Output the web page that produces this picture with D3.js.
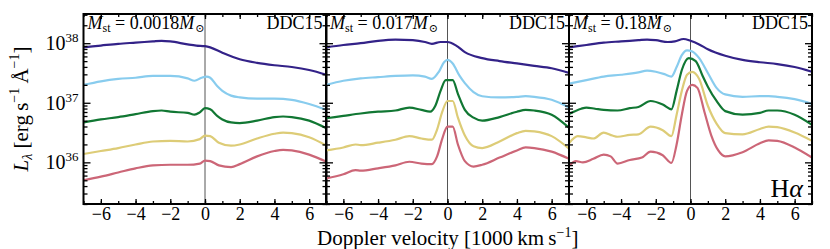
<!DOCTYPE html>
<html>
<head>
<meta charset="utf-8">
<script src="https://cdn.jsdelivr.net/npm/d3@7"></script>
<style>
  body { margin: 0; background: white; }
  text { font-family: "Liberation Serif", "DejaVu Serif", serif; }
</style>
</head>
<body>
<div id="container"></div>
<script>
let w = 830;
let h = 249;
let top_ = 14;
let bottom = 204;
let panelLeft = [83.5, 326, 569];
let panelW = 243;

let indigo = "#332288";
let cyan = "#88CCEE";
let green = "#117733";
let sand = "#DDCC77";
let rose = "#CC6677";
let colors = [indigo, cyan, green, sand, rose];

// panel labels
let massLabels = ["0.0018", "0.017", "0.18"];
let modelLabel = "DDC15";
let xTicks = [-6, -4, -2, 0, 2, 4, 6];

// log10 L_lambda vs velocity (1000 km/s)
let p1Indigo = [[-7,37.93],[-6,37.96],[-5,37.99],[-4,38.01],[-3,38.03],[-2.5,38.04],[-2,38.03],[-1,37.98],[-0.5,37.96],[0,37.95],[0.3,37.93],[1,37.84],[2,37.73],[3,37.67],[4,37.63],[5,37.60],[6,37.55],[7,37.47]];
let p1Cyan = [[-7,37.30],[-6,37.36],[-5,37.40],[-4,37.42],[-3,37.45],[-2,37.45],[-1,37.41],[-0.6,37.37],[-0.2,37.42],[0.1,37.44],[0.3,37.42],[0.7,37.28],[1,37.20],[1.5,37.12],[2,37.09],[3,37.07],[4,37.07],[5,37.05],[6,36.98],[7,36.88]];
let p1Green = [[-7,36.67],[-6,36.72],[-5,36.76],[-4,36.81],[-3,36.86],[-2.5,36.87],[-2,36.85],[-1,36.83],[-0.6,36.80],[-0.3,36.84],[0,36.91],[0.3,36.89],[0.7,36.78],[1,36.72],[1.5,36.67],[2,36.66],[3,36.70],[4,36.76],[4.5,36.77],[5,36.76],[6,36.70],[7,36.57]];
let p1Sand = [[-7,36.14],[-6,36.19],[-5,36.24],[-4,36.30],[-3,36.35],[-2,36.36],[-1,36.35],[-0.3,36.39],[0,36.45],[0.3,36.44],[0.8,36.33],[1.5,36.28],[2,36.30],[3,36.40],[4,36.48],[4.5,36.50],[5,36.49],[6,36.42],[7,36.28]];
let p1Rose = [[-7,35.70],[-6,35.76],[-5,35.83],[-4,35.90],[-3,35.95],[-2,35.96],[-1,35.96],[-0.3,35.98],[0,36.03],[0.3,36.02],[0.8,35.95],[1.5,35.92],[2,35.97],[3,36.10],[4,36.19],[4.5,36.21],[5,36.20],[6,36.13],[7,36.01]];

let p2Indigo = [[-7,37.93],[-6,37.97],[-5,38.00],[-4,38.04],[-3,38.06],[-2,38.05],[-1.3,38.02],[-0.9,37.99],[-0.4,38.02],[0,38.02],[0.5,37.96],[1,37.85],[2,37.75],[3,37.70],[4,37.66],[5,37.62],[6,37.58],[7,37.50]];
let p2Cyan = [[-7,37.30],[-6,37.37],[-5,37.41],[-4,37.43],[-3,37.45],[-2,37.46],[-1.3,37.44],[-0.9,37.40],[-0.5,37.52],[-0.2,37.68],[0,37.72],[0.3,37.66],[0.7,37.45],[1,37.33],[1.5,37.18],[2,37.11],[3,37.09],[4,37.10],[4.5,37.11],[5,37.10],[6,37.05],[7,36.92]];
let p2Green = [[-7,36.74],[-6,36.78],[-5,36.82],[-4,36.85],[-3,36.87],[-2.2,36.92],[-1.5,36.88],[-1,36.85],[-0.7,36.95],[-0.4,37.20],[-0.1,37.38],[0.3,37.38],[0.6,37.15],[1,36.88],[1.5,36.75],[2,36.70],[3,36.76],[4,36.85],[4.5,36.88],[5,36.87],[6,36.80],[7,36.58]];
let p2Sand = [[-7,36.20],[-6,36.25],[-5.3,36.30],[-5,36.29],[-4,36.33],[-3,36.38],[-2.2,36.44],[-1.5,36.40],[-0.9,36.38],[-0.6,36.55],[-0.3,36.85],[0,37.03],[0.3,37.03],[0.6,36.75],[1,36.45],[1.5,36.27],[2,36.24],[3,36.35],[4,36.49],[4.5,36.53],[5,36.52],[6,36.44],[7,36.23]];
let p2Rose = [[-7,35.73],[-6,35.80],[-5.3,35.87],[-5,35.86],[-4,35.90],[-3,35.95],[-2.2,36.01],[-1.5,35.98],[-0.9,35.97],[-0.6,36.10],[-0.3,36.40],[0,36.60],[0.3,36.60],[0.6,36.30],[1,36.02],[1.5,35.93],[2,35.96],[3,36.08],[4,36.20],[4.5,36.25],[5,36.24],[6,36.18],[7,36.06]];

let p3Indigo = [[-7,37.93],[-6,37.97],[-5,38.01],[-4,38.03],[-3,38.05],[-2.5,38.06],[-2,38.05],[-1.3,38.02],[-0.9,38.03],[-0.4,38.07],[0,38.04],[0.5,37.98],[1,37.90],[2,37.79],[3,37.72],[4,37.68],[5,37.65],[6,37.60],[7,37.52]];
let p3Cyan = [[-7,37.32],[-6,37.38],[-5,37.44],[-4,37.47],[-3,37.51],[-2.5,37.54],[-2,37.52],[-1.5,37.48],[-1.1,37.44],[-0.8,37.60],[-0.5,37.80],[-0.2,37.88],[0.1,37.86],[0.5,37.75],[1,37.50],[1.5,37.25],[2,37.14],[3,37.10],[4,37.11],[4.5,37.11],[5,37.10],[6,37.06],[7,36.98]];
let p3Green = [[-7,36.81],[-6.3,36.90],[-6,36.92],[-5.5,36.90],[-5,36.88],[-4.2,36.87],[-3.5,36.91],[-3,36.93],[-2.3,37.03],[-1.6,36.97],[-1.1,36.89],[-0.8,37.20],[-0.5,37.55],[-0.1,37.75],[0.3,37.70],[0.7,37.45],[1,37.27],[1.5,37.03],[2,36.86],[3,36.80],[4,36.83],[4.5,36.87],[5,36.87],[6,36.80],[7,36.63]];
let p3Sand = [[-7,36.32],[-6.5,36.44],[-6,36.42],[-5.6,36.40],[-5,36.50],[-4.5,36.45],[-4.2,36.43],[-3.5,36.46],[-3,36.47],[-2.3,36.60],[-1.6,36.54],[-1.1,36.44],[-0.8,36.80],[-0.5,37.20],[-0.2,37.47],[0.1,37.52],[0.5,37.40],[1,36.95],[1.5,36.65],[2,36.49],[3,36.47],[4,36.56],[4.5,36.60],[5,36.59],[6,36.50],[7,36.36]];
let p3Rose = [[-7,35.94],[-6.6,36.02],[-6.2,36.00],[-5.6,36.06],[-5,36.13],[-4.6,36.10],[-4.2,35.98],[-3.5,36.04],[-2.8,36.08],[-2.3,36.18],[-1.6,36.12],[-1.1,35.99],[-0.8,36.30],[-0.5,36.80],[-0.2,37.20],[0.1,37.30],[0.4,37.25],[0.8,36.85],[1.2,36.45],[1.6,36.20],[2,36.10],[3,36.17],[4,36.32],[4.5,36.37],[5,36.36],[6,36.25],[7,36.08]];

let panels = [
  [p1Indigo, p1Cyan, p1Green, p1Sand, p1Rose],
  [p2Indigo, p2Cyan, p2Green, p2Sand, p2Rose],
  [p3Indigo, p3Cyan, p3Green, p3Sand, p3Rose]
];

let viz = d3.select("#container")
  .append("svg")
    .attr("width", w)
    .attr("height", h)
    .style("background-color", "white")
;

let y = d3.scaleLog().domain([2.0e35, 3.09e38]).range([bottom, top_]);

function tickOnly(sel){
  sel.selectAll(".tick text").remove();
  sel.select(".domain").remove();
}

panels.forEach(function(series, p){
  let x0 = panelLeft[p];
  let x = d3.scaleLinear().domain([-7, 7]).range([x0, x0 + panelW]);
  let g = viz.append("g").attr("class", "panel");

  let clipId = "clip" + p;
  g.append("clipPath").attr("id", clipId)
    .append("rect")
      .attr("x", x0).attr("y", top_)
      .attr("width", panelW).attr("height", bottom - top_);

  // zero line
  g.append("line")
    .attr("x1", x(0)).attr("x2", x(0))
    .attr("y1", top_).attr("y2", bottom)
    .style("stroke", "#555")
    .style("stroke-width", 1)
  ;

  let line = d3.line()
    .x(d => x(d[0]))
    .y(d => y(Math.pow(10, d[1])))
    .curve(d3.curveMonotoneX);

  g.append("g").attr("clip-path", "url(#" + clipId + ")")
    .selectAll("path").data(series).enter()
    .append("path")
      .attr("d", line)
      .style("fill", "none")
      .style("stroke", (d, i) => colors[i])
      .style("stroke-width", 2.2)
      .style("stroke-linejoin", "round")
  ;

  // x ticks, bottom and top
  let xMajor = d3.axisBottom(x).tickValues(xTicks).tickSize(-5).tickPadding(3)
    .tickFormat(d => d < 0 ? "\u2212" + Math.abs(d) : d);
  let bx = g.append("g").attr("transform", "translate(0," + bottom + ")").call(xMajor);
  bx.select(".domain").remove();
  bx.selectAll("text").style("font-size", "18px").style("font-family", "Liberation Serif").attr("fill", "black");
  g.append("g").attr("transform", "translate(0," + bottom + ")")
    .call(d3.axisBottom(x).tickValues(d3.range(-7, 8, 1)).tickSize(-3)).call(tickOnly);
  g.append("g").attr("transform", "translate(0," + top_ + ")")
    .call(d3.axisTop(x).tickValues(xTicks).tickSize(-5)).call(tickOnly);
  g.append("g").attr("transform", "translate(0," + top_ + ")")
    .call(d3.axisTop(x).tickValues(d3.range(-7, 8, 1)).tickSize(-3)).call(tickOnly);

  // y ticks, left and right
  let majors = [1e36, 1e37, 1e38];
  let minors = y.ticks().filter(t => majors.indexOf(t) < 0);
  g.append("g").attr("transform", "translate(" + x0 + ",0)")
    .call(d3.axisLeft(y).tickValues(majors).tickSize(-7)).call(tickOnly);
  g.append("g").attr("transform", "translate(" + x0 + ",0)")
    .call(d3.axisLeft(y).tickValues(minors).tickSize(-4)).call(tickOnly);
  g.append("g").attr("transform", "translate(" + (x0 + panelW) + ",0)")
    .call(d3.axisRight(y).tickValues(majors).tickSize(-7)).call(tickOnly);
  g.append("g").attr("transform", "translate(" + (x0 + panelW) + ",0)")
    .call(d3.axisRight(y).tickValues(minors).tickSize(-4)).call(tickOnly);

  g.selectAll(".tick line").style("stroke", "black").style("stroke-width", 1.3);

  // y tick labels only on first panel
  if (p === 0) {
    majors.forEach(function(m){
      let t = g.append("text")
        .attr("x", x0 - 5)
        .attr("y", y(m) + 7)
        .attr("text-anchor", "end")
        .attr("font-size", 20)
      ;
      t.append("tspan").text("10");
      t.append("tspan").text(Math.round(Math.log10(m))).attr("dy", -8).attr("font-size", 13);
    });
  }

  // frame
  g.append("rect")
    .attr("x", x0).attr("y", top_)
    .attr("width", panelW).attr("height", bottom - top_)
    .style("fill", "none")
    .style("stroke", "black")
    .style("stroke-width", 2)
  ;

  // mass label
  let ml = g.append("text")
    .attr("x", x0 + 4)
    .attr("y", top_ + 15)
    .attr("font-size", 18)
  ;
  ml.append("tspan").text("M").attr("font-style", "italic");
  ml.append("tspan").text("st").attr("font-size", 12).attr("dy", 3);
  ml.append("tspan").text(" = " + massLabels[p]).attr("dy", -3);
  ml.append("tspan").text("M").attr("font-style", "italic");
  ml.append("tspan").text("\u2299").attr("font-size", 11).attr("dy", 3).attr("dx", 1);

  g.append("text")
    .text(modelLabel)
    .attr("x", x0 + panelW - 4)
    .attr("y", top_ + 15)
    .attr("text-anchor", "end")
    .attr("font-size", 18)
  ;
});

viz.append("text")
  .attr("x", panelLeft[2] + panelW - 9)
  .attr("y", bottom - 7)
  .attr("text-anchor", "end")
  .attr("font-size", 26)
  .text("H")
  .append("tspan").text("\u03b1").attr("font-style", "italic")
;

// x axis label
let xl = viz.append("text")
  .attr("x", (panelLeft[0] + panelLeft[2] + panelW) / 2)
  .attr("y", 245)
  .attr("text-anchor", "middle")
  .attr("font-size", 21)
;
xl.append("tspan").text("Doppler velocity [1000\u2009km\u2009s");
xl.append("tspan").text("\u22121").attr("font-size", 14).attr("dy", -8);
xl.append("tspan").text("]").attr("dy", 8);

// y axis label
let yl = viz.append("text")
  .attr("transform", "translate(28," + ((top_ + bottom) / 2) + ") rotate(-90)")
  .attr("text-anchor", "middle")
  .attr("font-size", 21)
;
yl.append("tspan").text("L").attr("font-style", "italic");
yl.append("tspan").text("\u03bb").attr("font-style", "italic").attr("font-size", 14).attr("dy", 4);
yl.append("tspan").text(" [erg\u2009s").attr("dy", -4);
yl.append("tspan").text("\u22121").attr("font-size", 14).attr("dy", -9);
yl.append("tspan").text("\u2009\u00c5").attr("dy", 9);
yl.append("tspan").text("\u22121").attr("font-size", 14).attr("dy", -9);
yl.append("tspan").text("]").attr("dy", 9);
</script>
</body>
</html>
